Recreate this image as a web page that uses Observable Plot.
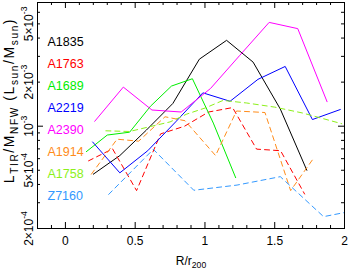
<!DOCTYPE html>
<html><head><meta charset="utf-8">
<script src="https://cdn.jsdelivr.net/npm/d3@7"></script>
<script src="https://cdn.jsdelivr.net/npm/@observablehq/plot@0.6"></script>
<style>html,body{margin:0;padding:0;background:#fff;} svg{display:block}</style>
</head><body><div id="chart"></div>
<script>
// ---- data ----
const clusters = ["A1835","A1763","A1689","A2219","A2390","A1914","A1758","Z7160"];
const colors   = ["#000000","#ff0000","#00ee00","#0000ff","#ff00ff","#ff8c1a","#8cf01a","#3399ff"];
const dashed   = [false,true,false,false,false,true,true,true];

const r_A1835 = [0.2,0.39,0.58,0.77,0.96,1.155,1.345,1.54,1.73];
const L_A1835 = [4.7e-4,6.3e-4,9.4e-4,1.43e-3,2.87e-3,3.86e-3,2.74e-3,1.31e-3,5.0e-4];
const r_A1763 = [0.166,0.338,0.51,0.682,0.854,1.026,1.198,1.37,1.542,1.714];
const L_A1763 = [5.8e-4,7.0e-4,3.63e-4,8.86e-4,1.0e-3,1.25e-3,1.34e-3,6.97e-4,6.8e-4,3.44e-4];
const r_A1689 = [0.15,0.30,0.46,0.61,0.76,0.91,1.06,1.22];
const L_A1689 = [6.7e-4,8.7e-4,9.1e-4,1.37e-3,1.88e-3,2.11e-3,1.05e-3,4.45e-4];
const r_A2219 = [0.195,0.39,0.59,0.79,0.985,1.18,1.38,1.575,1.77,1.97];
const L_A2219 = [7.8e-4,4.8e-4,6.8e-4,1.07e-3,1.69e-3,1.48e-3,2.09e-3,2.56e-3,1.11e-3,1.30e-3];
const r_A2390 = [0.21,0.415,0.62,0.83,1.04,1.25,1.46,1.665,1.875];
const L_A2390 = [1.08e-3,1.85e-3,1.29e-3,1.25e-3,1.81e-3,3.05e-3,5.12e-3,4.64e-3,1.47e-3];
const r_A1914 = [0.186,0.37,0.525,0.714,0.857,1.076,1.226,1.43,1.614,1.774];
const L_A1914 = [4.7e-4,8.15e-4,7.9e-4,1.16e-3,1.09e-3,6.3e-4,1.27e-3,1.24e-3,3.63e-4,5.96e-4];
const r_A1758 = [0.29,0.46,0.6,0.75,0.87,1.0,1.13,1.3,1.5,1.7,1.98];
const L_A1758 = [9.3e-4,9.2e-4,9.9e-4,1.07e-3,1.21e-3,1.33e-3,1.50e-3,1.44e-3,1.35e-3,1.23e-3,1.04e-3];
const r_Z7160 = [0.31,0.63,0.92,1.23,1.54,1.85,2.0];
const L_Z7160 = [3.42e-4,6.95e-4,3.65e-4,3.96e-4,4.52e-4,2.41e-4,2.57e-4];

const xMajor = [0,0.5,1,1.5,2];
const xTickLabels = ["0","0.5","1","1.5","2"];
const xMinor = [-0.1,0.1,0.2,0.3,0.4,0.6,0.7,0.8,0.9,1.1,1.2,1.3,1.4,1.6,1.7,1.8,1.9];
const yMinor = [2e-4,3e-4,4e-4,5e-4,6e-4,7e-4,8e-4,9e-4,2e-3,3e-3,4e-3,5e-3,6e-3];
const yMajor = [1e-3];
const yLabelVals = [5e-3,2e-3,1e-3,5e-4,2e-4];
const yTickLabels = ["5×10^{-3}","2×10^{-3}","10^{-3}","5×10^{-4}","2×10^{-4}"];
const xTitle = "R/r_{200}";
const yTitle = "L_{TIR}/M_{NFW} (L_{sun}/M_{sun})";

// ---- build ----
const rs = [r_A1835,r_A1763,r_A1689,r_A2219,r_A2390,r_A1914,r_A1758,r_Z7160];
const Ls = [L_A1835,L_A1763,L_A1689,L_A2219,L_A2390,L_A1914,L_A1758,L_Z7160];
const series = clusters.map((name,i)=>rs[i].map((r,j)=>({name, r, L: Ls[i][j]})));

const W=349, H=273, ML=37, MR=5, MT=2, MB=45;
const fw = W-ML-MR, fh = H-MT-MB;
const font = "'Liberation Sans', Arial, Helvetica, sans-serif";

const marks = [
  ...series.map((d,i)=>Plot.line(d,{x:"r",y:"L",stroke:colors[i],strokeWidth:1,
      strokeDasharray: dashed[i] ? "5,4" : null})),
  Plot.frame({stroke:"black",strokeWidth:1}),
  Plot.tickX(xMinor,{x:d=>d,insetTop:fh-3,stroke:"black"}),
  Plot.tickX(xMajor,{x:d=>d,insetTop:fh-6,stroke:"black"}),
  Plot.tickX(xMinor,{x:d=>d,insetBottom:fh-3,stroke:"black"}),
  Plot.tickX(xMajor,{x:d=>d,insetBottom:fh-6,stroke:"black"}),
  Plot.tickY(yMinor,{y:d=>d,insetRight:fw-3,stroke:"black"}),
  Plot.tickY(yMajor,{y:d=>d,insetRight:fw-6,stroke:"black"}),
  Plot.tickY(yMinor,{y:d=>d,insetLeft:fw-3,stroke:"black"}),
  Plot.tickY(yMajor,{y:d=>d,insetLeft:fw-6,stroke:"black"}),
  Plot.axisX(xMajor,{tickSize:0,tickPadding:8,fontSize:12,label:null,
      tickFormat:(d)=>xTickLabels[xMajor.indexOf(d)]}),
  Plot.text(yLabelVals,{y:d=>d,text:(d,i)=>yTickLabels[i],frameAnchor:"left",dx:-5,
      rotate:-90,lineAnchor:"bottom",textAnchor:"middle",fontSize:12,fill:"black"}),
  Plot.text([yTitle],{text:d=>d,frameAnchor:"left",dx:-24,dy:-15,rotate:-90,
      lineAnchor:"bottom",textAnchor:"middle",fontSize:14,fill:"black"}),
  Plot.text([xTitle],{text:d=>d,frameAnchor:"bottom",dy:36,lineAnchor:"bottom",
      textAnchor:"middle",fontSize:12,fill:"black"}),
  ...clusters.map((name,i)=>Plot.text([name],{text:d=>d,frameAnchor:"top-left",
      dx:10,dy:43.7+22*i,lineAnchor:"bottom",textAnchor:"start",fontSize:12.5,fill:colors[i]}))
];

const chart = Plot.plot({
  width:W, height:H, marginLeft:ML, marginRight:MR, marginTop:MT, marginBottom:MB,
  style:{fontFamily:font, background:"white", overflow:"visible"},
  x:{domain:[-0.2,2], axis:null},
  y:{type:"log", domain:[2e-4,7e-3], axis:null},
  marks
});
document.getElementById("chart").appendChild(chart);

// sub/superscripts as real tspans
d3.select(chart).selectAll("text").each(function(){
  const t = this.textContent;
  if(!/[\^_]\{/.test(t)) return;
  const fs = parseFloat(getComputedStyle(this).fontSize) || 12;
  const parts = []; const re = /([\^_])\{([^}]*)\}/g; let last=0, m;
  while((m = re.exec(t))){
    if(m.index>last) parts.push({s:t.slice(last,m.index),k:0});
    parts.push({s:m[2],k:m[1]==="^"?1:-1}); last = re.lastIndex;
  }
  if(last<t.length) parts.push({s:t.slice(last),k:0});
  this.textContent = "";
  let cur = 0;
  for(const p of parts){
    const target = p.k===1 ? -0.42*fs : p.k===-1 ? 0.3*fs : 0;
    const ts = d3.select(this).append("tspan").attr("dy", target-cur).text(p.s);
    if(p.k) ts.attr("font-size", 0.72*fs);
    cur = target;
  }
});
// the y title is set with wide spacing in the reference
d3.select(chart).selectAll("text").filter(function(){return this.textContent.startsWith("LTIR");})
  .attr("letter-spacing", "1.6px");
</script>
</body></html>
